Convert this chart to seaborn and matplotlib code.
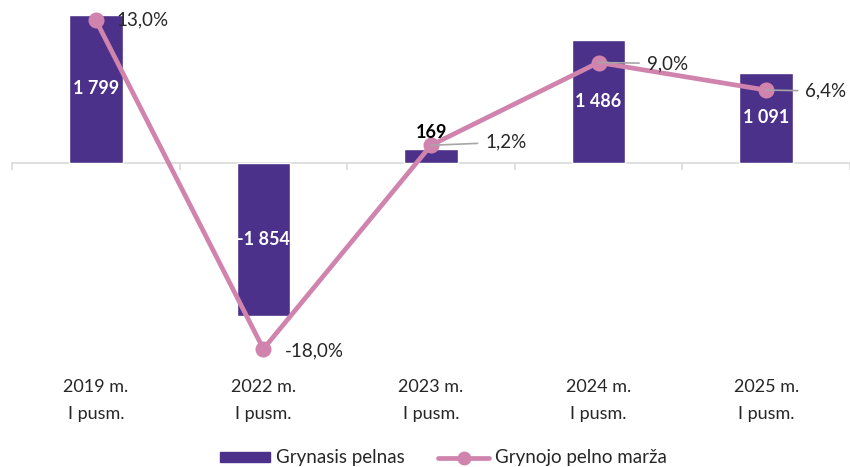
import matplotlib
matplotlib.use("Agg")
import matplotlib.pyplot as plt
import seaborn as sns
from matplotlib.patches import Patch
from matplotlib.lines import Line2D

# data
periods = ["2019 m.\nI pusm.", "2022 m.\nI pusm.", "2023 m.\nI pusm.",
           "2024 m.\nI pusm.", "2025 m.\nI pusm."]
net_profit = [1799, -1854, 169, 1486, 1091]
net_margin = [13.0, -18.0, 1.2, 9.0, 6.4]

bar_color = "#4B318A"
line_color = "#D084AD"
text_color = "#262626"

sns.set_theme(style="white")
plt.rcParams["font.family"] = ["Lato", "DejaVu Sans"]

fig = plt.figure(figsize=(8.5, 4.67), dpi=100)
ax = fig.add_axes([12 / 850, 1 - 360 / 467, 838 / 850, 355 / 467])

sns.barplot(x=periods, y=net_profit, color=bar_color, width=0.32,
            saturation=1, ax=ax)
ax.set_xlim(-0.5, 4.5)
ax.set_ylim(-2388, 1915)

# value labels inside the bars
fmt = [f"{v:,}".replace(",", " ") for v in net_profit]
inside = [s if abs(v) > 500 else "" for s, v in zip(fmt, net_profit)]
ax.bar_label(ax.containers[0], labels=inside, label_type="center",
             color="white", fontweight="bold", fontsize=13)

for s in ax.spines.values():
    s.set_visible(False)
ax.set_yticks([])
ax.tick_params(axis="x", length=0, pad=13.5, labelsize=13, labelcolor=text_color)
for t in ax.get_xticklabels():
    t.set_linespacing(1.85)

# category axis at zero with boundary ticks
sec = ax.secondary_xaxis(0, transform=ax.transData)
sec.spines["bottom"].set_color("#D9D9D9")
sec.spines["bottom"].set_linewidth(1.2)
sec.set_xticks([i - 0.5 for i in range(len(periods) + 1)])
sec.set_xticklabels([])
sec.tick_params(axis="x", length=5, color="#D9D9D9", width=1.2, direction="out")

# margin line on secondary axis
ax2 = ax.twinx()
sns.pointplot(x=periods, y=net_margin, color=line_color, markers="o",
              linestyles="-", markersize=9, linewidth=3.4, ax=ax2)
ax2.set_xlim(-0.5, 4.5)
ax2.set_ylim(-19.04, 14.42)
ax2.set_yticks([])
for s in ax2.spines.values():
    s.set_visible(False)

# small bar values sit above the bar, drawn over the line
for i, (v, s) in enumerate(zip(net_profit, fmt)):
    if abs(v) <= 500:
        ax2.annotate(s, xy=(i, v), xycoords=ax.transData, xytext=(0, 8),
                     textcoords="offset pixels", ha="center", va="bottom",
                     fontsize=13, fontweight="bold", color="black")

offsets = [(21, 0), (21, -2), (54, 3), (48, -1), (39, -1)]
leaders = [False, False, True, True, True]
for i, (v, off, lead) in enumerate(zip(net_margin, offsets, leaders)):
    label = f"{v:.1f}%".replace(".", ",")
    kw = {}
    if lead:
        kw["arrowprops"] = dict(arrowstyle="-", color="#A6A6A6", lw=1.2,
                                shrinkA=3, shrinkB=0)
    ax2.annotate(label, xy=(i, v), xytext=off, textcoords="offset pixels",
                 ha="left", va="center", fontsize=13.5, color=text_color, **kw)

handles = [Patch(facecolor=bar_color, edgecolor=bar_color),
           Line2D([0], [0], color=line_color, lw=3.4, marker="o", markersize=9)]
fig.legend(handles, ["Grynasis pelnas", "Grynojo pelno marža"],
           loc="center", bbox_to_anchor=(443 / 850, 1 - 458 / 467), ncol=2,
           frameon=False, fontsize=13.5, handlelength=2.7, handleheight=0.45,
           handletextpad=0.3, columnspacing=1.8, labelcolor=text_color,
           borderpad=0.1)

fig.savefig("out.png", dpi=100)
